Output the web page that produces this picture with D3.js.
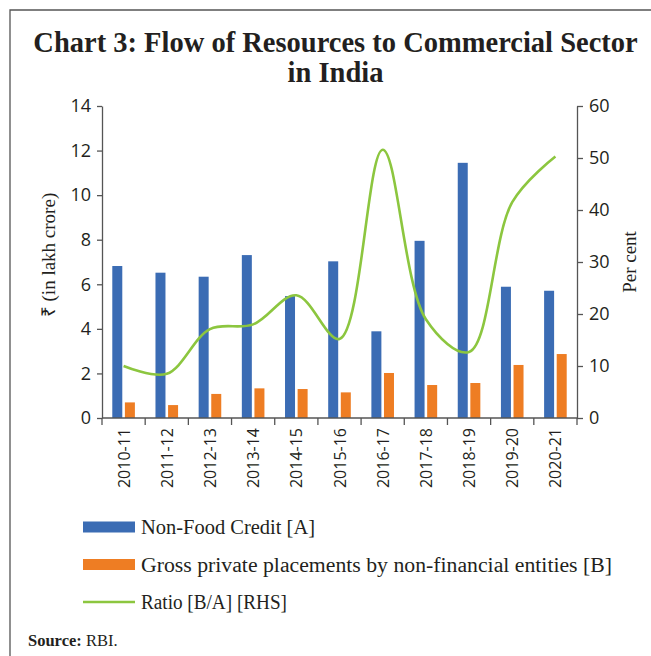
<!DOCTYPE html>
<html>
<head>
<meta charset="utf-8">
<script src="https://cdn.jsdelivr.net/npm/d3@7"></script>
<style>
  body { margin: 0; background: #fff; }
  svg { display: block; }
  .tick text { font-family: "Open Sans", sans-serif; fill: #231f20; }
  .serif { font-family: "Liberation Serif", serif; fill: #231f20; }
</style>
</head>
<body>
<div id="chart"></div>
<script>
const years = ["2010-11","2011-12","2012-13","2013-14","2014-15","2015-16","2016-17","2017-18","2018-19","2019-20","2020-21"];
const nonFoodCredit = [6.82, 6.52, 6.34, 7.31, 5.47, 7.03, 3.89, 7.95, 11.45, 5.89, 5.71];
const privatePlacements = [0.70, 0.58, 1.08, 1.33, 1.30, 1.15, 2.02, 1.48, 1.57, 2.38, 2.87];
const ratio = [10.0, 8.5, 17.1, 18.0, 23.6, 15.2, 51.6, 19.0, 12.7, 41.5, 50.3];
const leftTicks = [0, 2, 4, 6, 8, 10, 12, 14];
const rightTicks = [0, 10, 20, 30, 40, 50, 60];

const W = 651, H = 656;
const plot = { left: 102, right: 577, top: 106, bottom: 418 };

const svg = d3.select("#chart").append("svg").attr("width", W).attr("height", H);

// frame (left + top only, rest is cropped)
svg.append("path")
  .attr("d", `M10,${H} L10,10 L${W},10`)
  .attr("fill", "none").attr("stroke", "#555").attr("stroke-width", 1.3);

// title
const title = svg.append("text").attr("class", "serif")
  .attr("text-anchor", "middle").attr("font-weight", "bold").attr("font-size", 28.5);
title.append("tspan").attr("x", 335.5).attr("y", 52).text("Chart 3: Flow of Resources to Commercial Sector");
title.append("tspan").attr("x", 335.5).attr("y", 82).text("in India");

const x = d3.scaleBand().domain(years).range([plot.left, plot.right]);
const yL = d3.scaleLinear().domain([0, 14]).range([plot.bottom, plot.top]);
const yR = d3.scaleLinear().domain([0, 60]).range([plot.bottom, plot.top]);

const barW = 10, gap = 2.6;

svg.append("g").selectAll("rect").data(years).join("rect")
  .attr("x", (d) => x(d) + x.bandwidth() / 2 - gap / 2 - barW)
  .attr("y", (d, i) => yL(nonFoodCredit[i]))
  .attr("width", barW)
  .attr("height", (d, i) => yL(0) - yL(nonFoodCredit[i]))
  .attr("fill", "#3b6cb4");

svg.append("g").selectAll("rect").data(years).join("rect")
  .attr("x", (d) => x(d) + x.bandwidth() / 2 + gap / 2)
  .attr("y", (d, i) => yL(privatePlacements[i]))
  .attr("width", barW)
  .attr("height", (d, i) => yL(0) - yL(privatePlacements[i]))
  .attr("fill", "#ee7d23");

const line = d3.line()
  .x((d, i) => x(years[i]) + x.bandwidth() / 2)
  .y((d) => yR(d))
  .curve(d3.curveCatmullRom.alpha(0.5));

svg.append("path").datum(ratio)
  .attr("d", line)
  .attr("fill", "none").attr("stroke", "#8cc63f").attr("stroke-width", 2.6);

// axes
const axisColor = "#555";
const gL = svg.append("g").attr("transform", `translate(${plot.left},0)`)
  .call(d3.axisLeft(yL).tickValues(leftTicks).tickSize(5).tickPadding(6).tickSizeOuter(0));
const gR = svg.append("g").attr("transform", `translate(${plot.right},0)`)
  .call(d3.axisRight(yR).tickValues(rightTicks).tickSize(6).tickPadding(6).tickSizeOuter(0));
const bandEdges = d3.range(years.length + 1).map(i => plot.left + i * x.step());
const gX = svg.append("g").attr("transform", `translate(0,${plot.bottom})`);
gX.append("line").attr("x1", plot.left).attr("x2", plot.right).attr("stroke", axisColor).attr("stroke-width", 1.3);
gX.selectAll("line.t").data(bandEdges).join("line").attr("class", "t")
  .attr("x1", d => d).attr("x2", d => d).attr("y1", 0).attr("y2", 7)
  .attr("stroke", axisColor).attr("stroke-width", 1.3);
gX.selectAll("text").data(years).join("text")
  .attr("transform", d => `translate(${x(d) + x.bandwidth() / 2 + 6},10) rotate(-90)`)
  .attr("text-anchor", "end")
  .attr("font-family", "'Open Sans', sans-serif").attr("font-size", 16).attr("fill", "#231f20")
  .text(d => d);

[gL, gR].forEach(g => {
  g.selectAll(".domain, .tick line").attr("stroke", axisColor).attr("stroke-width", 1.3);
  g.selectAll(".tick text").attr("font-size", 18);
});

// axis titles
svg.append("text").attr("class", "serif").attr("font-size", 19)
  .attr("transform", "translate(55,255) rotate(-90)").attr("text-anchor", "middle")
  .text("₹ (in lakh crore)");
svg.append("text").attr("class", "serif").attr("font-size", 19)
  .attr("transform", "translate(636,262) rotate(-90)").attr("text-anchor", "middle")
  .text("Per cent");

// legend
const legend = [
  { label: "Non-Food Credit [A]", color: "#3b6cb4", type: "rect", len: 174 },
  { label: "Gross private placements by non-financial entities [B]", color: "#ee7d23", type: "rect", len: 471 },
  { label: "Ratio [B/A] [RHS]", color: "#8cc63f", type: "line", len: 146 }
];
const lg = svg.append("g").selectAll("g").data(legend).join("g")
  .attr("transform", (d, i) => `translate(83,${527 + i * 37.5})`);
lg.filter(d => d.type === "rect").append("rect")
  .attr("x", 0).attr("y", -5.5).attr("width", 52).attr("height", 11).attr("fill", d => d.color);
lg.filter(d => d.type === "line").append("line")
  .attr("x1", 0).attr("x2", 52).attr("y1", 0).attr("y2", 0)
  .attr("stroke", d => d.color).attr("stroke-width", 2.6);
lg.append("text").attr("class", "serif").attr("x", 58).attr("y", 7).attr("font-size", 20)
  .attr("textLength", d => d.len).attr("lengthAdjust", "spacingAndGlyphs")
  .text(d => d.label);

// source
const src = svg.append("text").attr("class", "serif").attr("x", 28).attr("y", 646).attr("font-size", 16.5);
src.append("tspan").attr("font-weight", "bold").text("Source:");
src.append("tspan").text(" RBI.");
</script>
</body>
</html>
